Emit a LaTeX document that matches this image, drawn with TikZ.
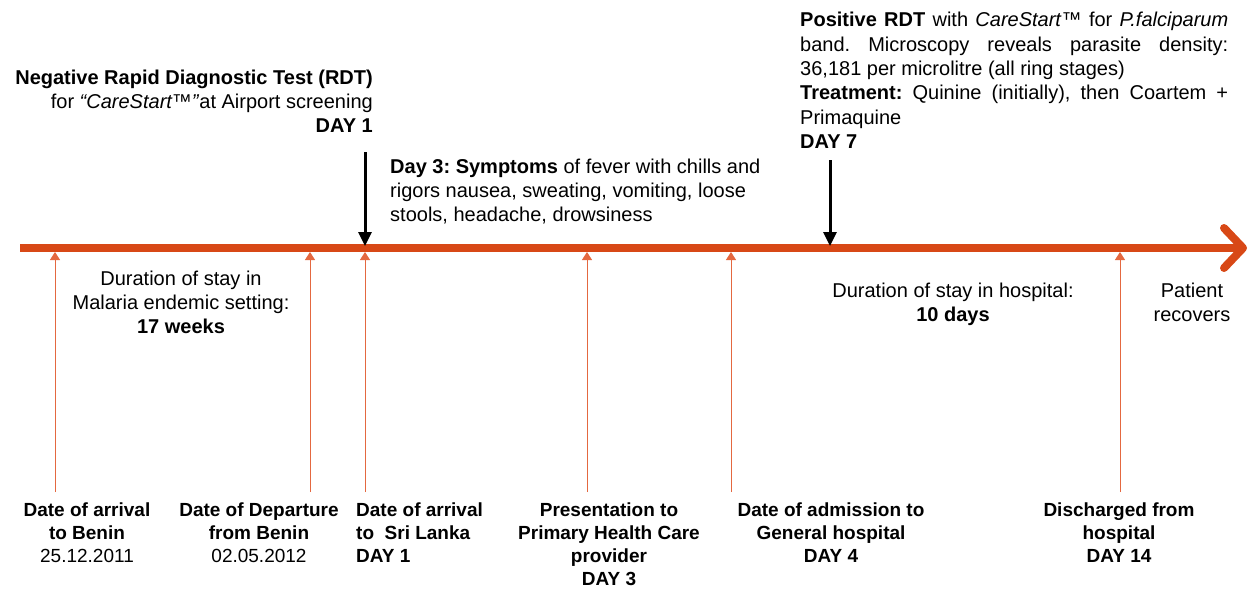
\documentclass[tikz,border=0pt]{standalone}
\usepackage{fontspec}
\setmainfont{Liberation Sans}
\usetikzlibrary{arrows.meta}
\definecolor{lineorange}{RGB}{216,72,22}
\definecolor{tickorange}{RGB}{228,104,64}
\frenchspacing

\begin{document}
\begin{tikzpicture}[x=1pt,y=-1pt,
  every node/.style={inner sep=0pt,font=\fontsize{20}{24}\selectfont},
  datebox/.style={align=center,anchor=north,font=\fontsize{19}{22.9}\selectfont\bfseries},
  tick/.style={tickorange,line width=1pt,-{Triangle[length=8pt,width=10pt]}},
  pointer/.style={black,line width=3pt,-{Triangle[length=14pt,width=13pt]}}]
\useasboundingbox (0,0) rectangle (1252,589);

% time line
\coordinate (tlstart) at (20,248);
\coordinate (tlend) at (1247,248);
\draw[lineorange,line width=8pt,-{Straight Barb[round,length=19pt,width=40pt]}] (tlstart) -- (tlend);

% events along the line
\coordinate (top1) at (55,252);    \coordinate (foot1) at (55,492);
\coordinate (top2) at (310,252);   \coordinate (foot2) at (310,492);
\coordinate (top3) at (365,252);   \coordinate (foot3) at (365,492);
\coordinate (top4) at (587,252);   \coordinate (foot4) at (587,492);
\coordinate (top5) at (731,252);   \coordinate (foot5) at (731,492);
\coordinate (top6) at (1120,252);  \coordinate (foot6) at (1120,492);
\draw[tick] (foot1) -- (top1);
\draw[tick] (foot2) -- (top2);
\draw[tick] (foot3) -- (top3);
\draw[tick] (foot4) -- (top4);
\draw[tick] (foot5) -- (top5);
\draw[tick] (foot6) -- (top6);

% labels below
\node[datebox] (arrBenin) at (87,503) {Date of arrival\\to Benin\\\mdseries 25.12.2011};
\node[datebox] (depBenin) at (259,503) {Date of Departure\\from Benin\\\mdseries 02.05.2012};
\node[datebox,align=left,anchor=north west] (arrLanka) at (356,503) {Date of arrival\\to\ \ Sri Lanka\\DAY 1};
\node[datebox] (phc) at (609,503) {Presentation to\\Primary Health Care\\provider\\DAY 3};
\node[datebox] (admit) at (831,503) {Date of admission to\\General hospital\\DAY 4};
\node[datebox] (discharge) at (1119,503) {Discharged from\\hospital\\DAY 14};

% durations
\node[align=center,anchor=north] (stay) at (181,271) {Duration of stay in\\Malaria endemic setting:\\\textbf{17 weeks}};
\node[align=center,anchor=north] (hstay) at (953,283) {Duration of stay in hospital:\\\textbf{10 days}};
\node[align=center,anchor=north] (recover) at (1192,283) {Patient\\recovers};

% tests and symptoms above
\node[align=right,anchor=north east] (rdtneg) at (373,70)
  {\textbf{Negative Rapid Diagnostic Test (RDT)}\\for \textit{“CareStart™”}at Airport screening\\\textbf{DAY 1}};
\node[align=left,anchor=north west] (sympt) at (390,159)
  {\textbf{Day 3: Symptoms} of fever with chills and\\rigors nausea, sweating, vomiting, loose\\stools, headache, drowsiness};
\node[text width=428pt,align=justify,anchor=north west,font=\fontsize{20}{24.4}\selectfont] (rdtpos) at (800,12)
  {\hyphenpenalty=10000\exhyphenpenalty=10000
   \textbf{Positive RDT} with \textit{CareStart}™ for \textit{P.falciparum} band. Microscopy reveals parasite density:\linebreak
   36,181 per microlitre (all ring stages)\\\textbf{Treatment:} Quinine (initially), then Coartem + Primaquine\\\textbf{DAY 7}};

\coordinate (hit3) at (365,246);
\coordinate (hit7) at (830,246);
\draw[pointer] (365,152) -- (hit3);
\draw[pointer] (830,160) -- (hit7);
\end{tikzpicture}
\end{document}
